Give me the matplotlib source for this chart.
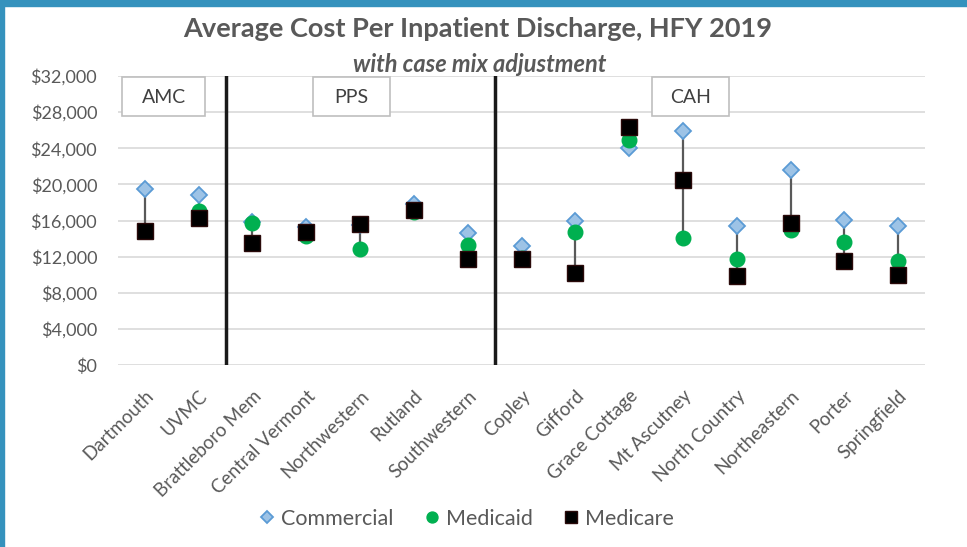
import numpy as np
import matplotlib.pyplot as plt
from matplotlib.patches import Rectangle
from matplotlib.ticker import FuncFormatter

plt.rcParams['font.family'] = ['Lato', 'DejaVu Sans']

hospitals = ['Dartmouth', 'UVMC', 'Brattleboro Mem', 'Central Vermont', 'Northwestern',
             'Rutland', 'Southwestern', 'Copley', 'Gifford', 'Grace Cottage',
             'Mt Ascutney', 'North Country', 'Northeastern', 'Porter', 'Springfield']
commercial = [19500, 18800, 15800, 15300, 15500, 17800, 14600, 13200, 15900, 24000,
              25900, 15400, 21600, 16100, 15400]
medicaid = [14800, 17000, 15700, 14300, 12900, 16900, 13300, 11800, 14700, 24900,
            14100, 11700, 15000, 13600, 11500]
medicare = [14800, 16300, 13500, 14700, 15600, 17200, 11700, 11700, 10200, 26400,
            20500, 9900, 15700, 11500, 10000]
groups = ['AMC', 'PPS', 'CAH']
group_centers = [0.35, 3.84, 10.14]
dividers = [1.5, 6.5]

gray = '#595959'
fig = plt.figure(figsize=(9.67, 5.47), dpi=100)
fig.patch.set_facecolor('white')
# blue frame (top + left)
fig.patches.append(Rectangle((0, 1 - 6 / 547), 1, 6 / 547, transform=fig.transFigure,
                             color='#3592bd', zorder=0))
fig.patches.append(Rectangle((0, 0), 3.5 / 967, 1, transform=fig.transFigure,
                             color='#3592bd', zorder=0))

ax = fig.add_axes([0.122, 0.3327, 0.8346, 0.5283])
x = np.arange(len(hospitals))

allv = np.array([commercial, medicaid, medicare])
ax.vlines(x, allv.min(axis=0), allv.max(axis=0), color='#595959', lw=1.6, zorder=2)
ax.plot(x, commercial, 'D', ms=8.5, mfc='#9dc3e6', mec='#5b9bd5', mew=1.3, ls='none',
        label='Commercial', zorder=3)
ax.plot(x, medicaid, 'o', ms=10.5, mfc='#00b050', mec='#00b050', ls='none',
        label='Medicaid', zorder=4)
ax.plot(x, medicare, 's', ms=12, mfc='black', mec='#2a0a0a', ls='none',
        label='Medicare', zorder=5)

for d in dividers:
    ax.axvline(d, color='#1a1a1a', lw=2.5, zorder=6)

ax.set_xlim(-0.5, len(hospitals) - 0.5)
ax.set_ylim(0, 32000)
ax.set_yticks(np.arange(0, 32001, 4000))
ax.yaxis.set_major_formatter(FuncFormatter(lambda v, p: '${:,.0f}'.format(v)))
ax.grid(axis='y', color='#d9d9d9', lw=1.2, zorder=0)
ax.set_axisbelow(True)
for s in ax.spines.values():
    s.set_visible(False)
ax.tick_params(axis='both', length=0, colors=gray)
ax.tick_params(axis='y', labelsize=13, pad=15)
ax.set_xticks(x)
ax.set_xticklabels(hospitals, rotation=45, ha='right', rotation_mode='anchor',
                   fontsize=13.5, color=gray)
ax.tick_params(axis='x', pad=16)

box_w = [1.54, 1.43, 1.43]
for g, c, w in zip(groups, group_centers, box_w):
    ax.add_patch(Rectangle((c - w / 2, 0.862), w, 0.135, transform=ax.get_xaxis_transform(),
                           facecolor='white', edgecolor='#bfbfbf', lw=1.2, zorder=7,
                           clip_on=False))
    ax.text(c, 0.925, g, transform=ax.get_xaxis_transform(), ha='center', va='center',
            fontsize=14, color='#404040', zorder=8)

fig.text(0.494, 1 - 29 / 547, 'Average Cost Per Inpatient Discharge, HFY 2019',
         ha='center', va='center', fontsize=19.5, fontweight='bold', color=gray)
fig.text(0.496, 1 - 64 / 547, 'with case mix adjustment', ha='center', va='center',
         fontsize=17, fontweight='bold', fontstyle='italic', color=gray)

fig.legend(loc='center', bbox_to_anchor=(464 / 967, 1 - 519 / 547), ncol=3, frameon=False,
           fontsize=15.5, labelcolor=gray, handletextpad=0.05, columnspacing=1.2,
           handlelength=1.2, markerscale=0.75)

fig.savefig('out.png', dpi=100)
